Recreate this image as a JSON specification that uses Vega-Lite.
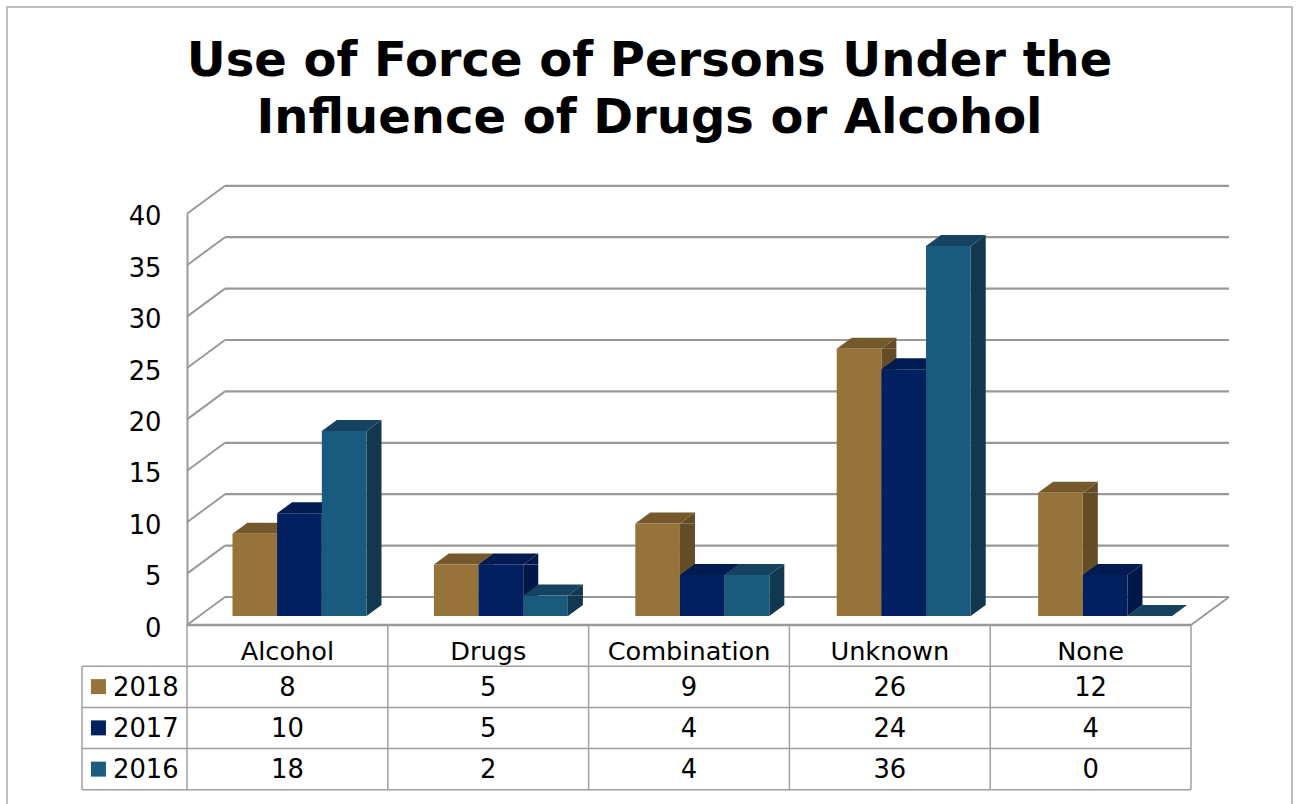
{
"$schema":"https://vega.github.io/schema/vega-lite/v6.json",
"width":1285,"height":799,
"autosize":{"type":"none"},
"padding":{"left":7,"top":7,"right":4,"bottom":-2},
"background":"white",
"config":{"view":{"stroke":"#ababab","strokeWidth":1.5,"fill":"white"},"font":"DejaVu Sans"},
"title":{"text":["Use of Force of Persons Under the","Influence of Drugs or Alcohol"],"anchor":"middle","frame":"group","orient":"top","offset":-174,"baseline":"alphabetic","font":"DejaVu Sans","fontSize":48,"fontWeight":"bold","lineHeight":57,"color":"#000000"},
"datasets":{
"bars":[
{"category":"Alcohol","series":"2018","value":8},{"category":"Alcohol","series":"2017","value":10},{"category":"Alcohol","series":"2016","value":18},
{"category":"Drugs","series":"2018","value":5},{"category":"Drugs","series":"2017","value":5},{"category":"Drugs","series":"2016","value":2},
{"category":"Combination","series":"2018","value":9},{"category":"Combination","series":"2017","value":4},{"category":"Combination","series":"2016","value":4},
{"category":"Unknown","series":"2018","value":26},{"category":"Unknown","series":"2017","value":24},{"category":"Unknown","series":"2016","value":36},
{"category":"None","series":"2018","value":12},{"category":"None","series":"2017","value":4},{"category":"None","series":"2016","value":0}
],
"levels":[{"level":0},{"level":5},{"level":10},{"level":15},{"level":20},{"level":25},{"level":30},{"level":35},{"level":40}],
"years":[{"series":"2018"},{"series":"2017"},{"series":"2016"}],
"rowLines":[{"line":1},{"line":2},{"line":3},{"line":4}],
"colLines":[{"col":0},{"col":1},{"col":2},{"col":3},{"col":4},{"col":5}]
},
"resolve":{"scale":{"x":"independent","y":"independent","color":"independent"},"axis":{"x":"independent","y":"independent"}},
"layer":[
{"data":{"name":"levels"},"mark":{"type":"rule","stroke":"#999999","strokeWidth":2.2,"xOffset":38,"x2Offset":38,"yOffset":-28},
 "encoding":{"x":{"datum":0,"type":"quantitative","scale":{"domain":[0,5],"range":[180,1184]},"axis":null},"x2":{"datum":5},"y":{"field":"level","type":"quantitative","scale":{"domain":[0,40],"range":[618,206.8],"nice":false},"axis":null}}},
{"data":{"name":"levels"},"mark":{"type":"point","shape":"M0,0L38,-28","filled":false,"size":4,"stroke":"#999999","strokeWidth":2,"opacity":1},
 "encoding":{"x":{"datum":0,"type":"quantitative","scale":{"domain":[0,5],"range":[180,1184]},"axis":null},"y":{"field":"level","type":"quantitative","scale":{"domain":[0,40],"range":[618,206.8],"nice":false},"axis":{"title":null,"orient":"left","offset":-180,"values":[0,5,10,15,20,25,30,35,40],"ticks":false,"grid":false,"domain":true,"domainColor":"#999999","domainWidth":2,"labelPadding":26,"labelOffset":3,"labelFont":"DejaVu Sans","labelFontSize":25.8,"labelColor":"#000000"}}}},
{"data":{"values":[{"level":0}]},"mark":{"type":"point","shape":"M0,0L38,-28","filled":false,"size":4,"stroke":"#999999","strokeWidth":2,"opacity":1},
 "encoding":{"x":{"datum":5,"type":"quantitative","scale":{"domain":[0,5],"range":[180,1184]},"axis":null},"y":{"field":"level","type":"quantitative","scale":{"domain":[0,40],"range":[618,206.8],"nice":false},"axis":null}}},
{"data":{"values":[{"level":0}]},"mark":{"type":"rule","stroke":"#999999","strokeWidth":2.5},
 "encoding":{"x":{"datum":0,"type":"quantitative","scale":{"domain":[0,5],"range":[180,1184]},"axis":null},"x2":{"datum":5},"y":{"field":"level","type":"quantitative","scale":{"domain":[0,40],"range":[618,206.8],"nice":false},"axis":null}}},
{"data":{"name":"bars"},"transform":[{"filter":"datum.value>0"}],"mark":{"type":"rule","strokeWidth":15,"yOffset":-9,"y2Offset":-20},
 "encoding":{
  "x":{"field":"category","type":"nominal","sort":["Alcohol","Drugs","Combination","Unknown","None"],"scale":{"type":"band","domain":["Alcohol","Drugs","Combination","Unknown","None"],"range":[221.65,1228.65],"paddingInner":0.3347,"paddingOuter":0.1673},"axis":null},
  "xOffset":{"field":"series","type":"nominal","sort":["2018","2017","2016"],"scale":{"domain":["2018","2017","2016"]}},
  "y":{"field":"value","type":"quantitative","stack":null,"scale":{"domain":[0,40],"range":[618,206.8],"nice":false},"axis":null},
  "y2":{"datum":0},
  "color":{"field":"series","type":"nominal","legend":null,"scale":{"domain":["2018","2017","2016"],"range":["#644d26","#00174a","#12384f"]}}}},
{"data":{"name":"bars"},
 "encoding":{
  "x":{"field":"category","type":"nominal","sort":["Alcohol","Drugs","Combination","Unknown","None"],"scale":{"type":"band","domain":["Alcohol","Drugs","Combination","Unknown","None"],"range":[191.8,1198.8],"paddingInner":0.3347,"paddingOuter":0.1673},"axis":null},
  "xOffset":{"field":"series","type":"nominal","sort":["2018","2017","2016"],"scale":{"domain":["2018","2017","2016"]}},
  "y":{"field":"value","type":"quantitative","stack":null,"scale":{"domain":[0,40],"range":[618,206.8],"nice":false},"axis":null}
 },
 "resolve":{"scale":{"color":"independent"}},
 "layer":[
  {"transform":[{"filter":"datum.value>0"}],"mark":{"type":"point","shape":"M22.35,-9L37.35,-20L37.35,-9Z","filled":true,"size":4,"strokeWidth":0,"opacity":1},
   "encoding":{"color":{"field":"series","type":"nominal","legend":null,"scale":{"domain":["2018","2017","2016"],"range":["#644d26","#00174a","#12384f"]}}}},
  {"transform":[{"filter":"datum.value>0"}],"mark":{"type":"point","shape":"M22.35,-9L37.35,-20L22.35,-20Z","filled":true,"size":4,"strokeWidth":0,"opacity":1},
   "encoding":{"y":{"datum":0,"type":"quantitative","scale":{"domain":[0,40],"range":[618,206.8],"nice":false},"axis":null},"color":{"field":"series","type":"nominal","legend":null,"scale":{"domain":["2018","2017","2016"],"range":["#644d26","#00174a","#12384f"]}}}},
  {"mark":{"type":"point","shape":"M-22.35,-9L-7.35,-20L37.35,-20L22.35,-9Z","filled":true,"size":4,"strokeWidth":0,"opacity":1},
   "encoding":{"color":{"field":"series","type":"nominal","legend":null,"scale":{"domain":["2018","2017","2016"],"range":["#75592c","#001a52","#15425f"]}}}},
  {"mark":{"type":"bar","yOffset":-9,"y2Offset":-9},
   "encoding":{"y2":{"datum":0},"color":{"field":"series","type":"nominal","legend":null,"scale":{"domain":["2018","2017","2016"],"range":["#96733a","#00205f","#1b5a7f"]}}}}
 ]},
{"data":{"name":"rowLines"},"mark":{"type":"rule","stroke":"#a0a0a0","strokeWidth":1.5},
 "encoding":{"x":{"datum":-0.523,"type":"quantitative","scale":{"domain":[0,5],"range":[180,1184]},"axis":null},"x2":{"datum":5},"y":{"field":"line","type":"quantitative","scale":{"domain":[0,4],"range":[618,782.75]},"axis":null}}},
{"data":{"name":"colLines"},"mark":{"type":"rule","stroke":"#a0a0a0","strokeWidth":1.5},
 "encoding":{"x":{"field":"col","type":"quantitative","scale":{"domain":[0,5],"range":[180,1184]},"axis":null},"y":{"datum":0,"type":"quantitative","scale":{"domain":[0,4],"range":[618,782.75]},"axis":null},"y2":{"datum":4}}},
{"data":{"values":[{"col":-0.523}]},"mark":{"type":"rule","stroke":"#a0a0a0","strokeWidth":1.5},
 "encoding":{"x":{"field":"col","type":"quantitative","scale":{"domain":[0,5],"range":[180,1184]},"axis":null},"y":{"datum":1,"type":"quantitative","scale":{"domain":[0,4],"range":[618,782.75]},"axis":null},"y2":{"datum":4}}},
{"data":{"name":"years"},"mark":{"type":"point","shape":"square","filled":true,"size":225,"strokeWidth":0,"opacity":1},
 "encoding":{"x":{"datum":-0.441,"type":"quantitative","scale":{"domain":[0,5],"range":[180,1184]},"axis":null},"y":{"field":"series","type":"nominal","sort":["2018","2017","2016"],"scale":{"type":"band","domain":["2018","2017","2016"],"range":[659,782.75],"padding":0},"axis":null},"color":{"field":"series","type":"nominal","legend":null,"scale":{"domain":["2018","2017","2016"],"range":["#96733a","#00205f","#1b5a7f"]}}}},
{"data":{"name":"years"},"mark":{"type":"text","align":"left","baseline":"middle","dy":1,"font":"DejaVu Sans","fontSize":25.8,"color":"#000000"},
 "encoding":{"x":{"datum":-0.3685,"type":"quantitative","scale":{"domain":[0,5],"range":[180,1184]},"axis":null},"y":{"field":"series","type":"nominal","sort":["2018","2017","2016"],"scale":{"type":"band","domain":["2018","2017","2016"],"range":[659,782.75],"padding":0},"axis":null},"text":{"field":"series"}}},
{"data":{"name":"bars"},"mark":{"type":"text","align":"center","baseline":"middle","dy":1,"font":"DejaVu Sans","fontSize":25.8,"color":"#000000"},
 "encoding":{"x":{"field":"category","type":"nominal","sort":["Alcohol","Drugs","Combination","Unknown","None"],"scale":{"type":"band","domain":["Alcohol","Drugs","Combination","Unknown","None"],"range":[180,1184],"padding":0},"axis":{"title":null,"orient":"bottom","offset":-181,"domain":false,"ticks":false,"grid":false,"labelAngle":0,"labelBaseline":"middle","labelPadding":26,"labelFont":"DejaVu Sans","labelFontSize":25.6,"labelColor":"#000000"}},"y":{"field":"series","type":"nominal","sort":["2018","2017","2016"],"scale":{"type":"band","domain":["2018","2017","2016"],"range":[659,782.75],"padding":0},"axis":null},"text":{"field":"value","type":"quantitative"}}}
]
}
